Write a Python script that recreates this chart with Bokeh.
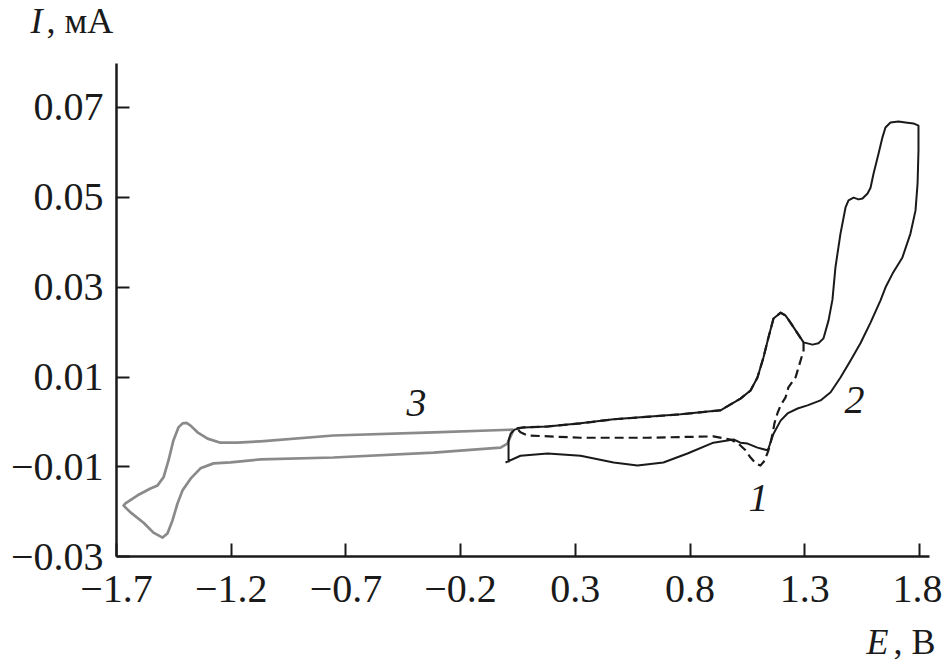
from bokeh.plotting import figure
from bokeh.models import Range1d, FixedTicker, Label, ColumnDataSource
from bokeh.core.properties import value
from bokeh.embed import file_html
from bokeh.resources import INLINE

# ---- data -------------------------------------------------------------
x_ticks = [-1.7, -1.2, -0.7, -0.2, 0.3, 0.8, 1.3, 1.8]
x_tick_labels = ["\u22121.7", "\u22121.2", "\u22120.7", "\u22120.2", "0.3", "0.8", "1.3", "1.8"]
y_ticks = [-0.03, -0.01, 0.01, 0.03, 0.05, 0.07]
y_tick_labels = ["\u22120.03", "\u22120.01", "0.01", "0.03", "0.05", "0.07"]
x_axis_span = (-1.7, 1.844)
y_axis_span = (-0.03, 0.0797)

# curve 1 (dashed), E in V, I in mA
E1 = [0.044, 0.074, 0.179, 0.323, 0.467, 0.759, 0.933, 1.020, 1.064, 1.094,
      1.120, 1.142, 1.164, 1.195, 1.216, 1.238, 1.269, 1.295, 1.295, 1.273,
      1.260, 1.229, 1.216, 1.195, 1.181, 1.168, 1.160, 1.151, 1.142, 1.125,
      1.107, 1.086, 1.064, 1.042, 1.011, 0.977, 0.902, 0.615, 0.323, 0.092,
      0.061, 0.044]
I1 = [-0.0014, -0.0012, -0.0010, -0.0003, 0.0006, 0.0017, 0.0026, 0.0052, 0.0070, 0.0099,
      0.0143, 0.0188, 0.0230, 0.0243, 0.0237, 0.0221, 0.0197, 0.0177, 0.0159, 0.0121,
      0.0099, 0.0077, 0.0054, 0.0037, 0.0019, -0.0003, -0.0026, -0.0046, -0.0063, -0.0086,
      -0.0097, -0.0092, -0.0079, -0.0063, -0.0048, -0.0039, -0.0032, -0.0035, -0.0035, -0.0030,
      -0.0023, -0.0014]

# curve 2 (solid black)
E2 = [0.009, 0.009, 0.018, 0.035, 0.074, 0.179, 0.323, 0.467, 0.759, 0.933,
      1.020, 1.064, 1.094, 1.120, 1.142, 1.164, 1.195, 1.216, 1.238, 1.269,
      1.295, 1.334, 1.360, 1.382, 1.404, 1.421, 1.434, 1.456, 1.478, 1.491,
      1.513, 1.535, 1.552, 1.574, 1.587, 1.600, 1.622, 1.639, 1.652, 1.674,
      1.709, 1.739, 1.774, 1.796, 1.796, 1.792, 1.783, 1.761, 1.726, 1.683,
      1.652, 1.630, 1.587, 1.543, 1.500, 1.456, 1.413, 1.369, 1.312, 1.269,
      1.225, 1.195, 1.164, 1.142, 1.138, 1.094, 1.051, 1.020, 0.990, 0.902,
      0.789, 0.684, 0.571, 0.467, 0.323, 0.179, 0.061, -0.004]
I2 = [-0.0090, -0.0041, -0.0026, -0.0017, -0.0012, -0.0010, -0.0003, 0.0006, 0.0017, 0.0026,
      0.0052, 0.0070, 0.0099, 0.0143, 0.0188, 0.0230, 0.0243, 0.0237, 0.0221, 0.0197,
      0.0177, 0.0172, 0.0175, 0.0186, 0.0226, 0.0272, 0.0344, 0.0419, 0.0477, 0.0493,
      0.0499, 0.0495, 0.0497, 0.0508, 0.0521, 0.0552, 0.0597, 0.0633, 0.0655, 0.0666,
      0.0668, 0.0666, 0.0664, 0.0659, 0.0604, 0.0530, 0.0470, 0.0419, 0.0366, 0.0330,
      0.0299, 0.0270, 0.0221, 0.0175, 0.0137, 0.0099, 0.0066, 0.0048, 0.0037, 0.0030,
      0.0019, 0.0003, -0.0026, -0.0059, -0.0063, -0.0057, -0.0048, -0.0046, -0.0039, -0.0046,
      -0.0070, -0.0090, -0.0097, -0.0090, -0.0075, -0.0070, -0.0075, -0.0090]

# curve 3 (gray)
E3 = [0.031, -0.318, -0.754, -1.072, -1.173, -1.247, -1.303, -1.347, -1.377, -1.395,
      -1.412, -1.430, -1.452, -1.473, -1.495, -1.521, -1.552, -1.608, -1.661, -1.669,
      -1.639, -1.582, -1.539, -1.499, -1.478, -1.456, -1.434, -1.412, -1.377, -1.334,
      -1.277, -1.203, -1.072, -0.754, -0.318, -0.026, 0.004, 0.031]
I3 = [-0.0017, -0.0023, -0.0030, -0.0043, -0.0046, -0.0046, -0.0037, -0.0023, -0.0008, -0.0002,
      -0.0003, -0.0012, -0.0041, -0.0085, -0.0123, -0.0141, -0.0148, -0.0163, -0.0181, -0.0186,
      -0.0201, -0.0224, -0.0246, -0.0257, -0.0248, -0.0219, -0.0181, -0.0152, -0.0126, -0.0103,
      -0.0092, -0.0090, -0.0083, -0.0079, -0.0068, -0.0057, -0.0048, -0.0017]

curve_names = ["1", "2", "3"]
name_E = [1.099, 1.517, -0.392]
name_I = [-0.0168, 0.0050, 0.0043]

FONT = "Liberation Serif"
INK = "#1a1a1a"

p = figure(width=942, height=665, output_backend="svg", toolbar_location=None,
           x_range=Range1d(-2.2057, 1.9007), y_range=Range1d(-0.05415, 0.09373),
           min_border=0, min_border_left=0, min_border_right=0,
           min_border_top=0, min_border_bottom=0)
p.outline_line_color = None
p.grid.visible = False
p.background_fill_color = "white"
p.border_fill_color = "white"

xa = p.xaxis[0]
ya = p.yaxis[0]
xa.fixed_location = y_axis_span[0]
xa.bounds = x_axis_span
ya.fixed_location = x_axis_span[0]
ya.bounds = y_axis_span

for ax in (xa, ya):
    ax.axis_line_width = 2.5
    ax.axis_line_color = INK
    ax.major_tick_in = 13
    ax.major_tick_out = 0
    ax.major_tick_line_width = 2
    ax.major_tick_line_color = INK
    ax.minor_tick_line_color = None
    ax.major_label_text_font = FONT
    ax.major_label_text_font_size = "40px"
    ax.major_label_text_color = INK

xa.ticker = FixedTicker(ticks=x_ticks)
xa.major_label_overrides = dict(zip(x_ticks, x_tick_labels))
xa.major_label_standoff = 19
ya.ticker = FixedTicker(ticks=y_ticks)
ya.major_label_overrides = dict(zip(y_ticks, y_tick_labels))
ya.major_label_standoff = 13

p.line(E3, I3, line_color="#8a8a8a", line_width=2.7, line_join="round")
p.line(E2, I2, line_color=INK, line_width=2, line_join="round")
p.line(E1, I1, line_color=INK, line_width=2.2, line_dash="9 5", line_join="round")

src = ColumnDataSource(dict(x=name_E, y=name_I, t=curve_names))
p.text(x="x", y="y", text="t", source=src, text_font=value(FONT),
       text_font_style="italic", text_font_size="40px", text_align="center",
       text_baseline="alphabetic", text_color=INK)

# axis titles
p.add_layout(Label(x=-2.075, y=0.0891, text="I", text_font=FONT, text_font_style="italic",
                   text_font_size="36px", text_baseline="alphabetic", text_color=INK))
p.add_layout(Label(x=-2.0051, y=0.0891, text=", \u043c\u0410", text_font=FONT,
                   text_font_size="36px", text_baseline="alphabetic", text_color=INK))
p.add_layout(Label(x=1.569, y=-0.0490, text="E", text_font=FONT, text_font_style="italic",
                   text_font_size="36px", text_baseline="alphabetic", text_color=INK))
p.add_layout(Label(x=1.687, y=-0.0490, text=", \u0412", text_font=FONT,
                   text_font_size="36px", text_baseline="alphabetic", text_color=INK))

open("out.html", "w").write(file_html(p, INLINE))
